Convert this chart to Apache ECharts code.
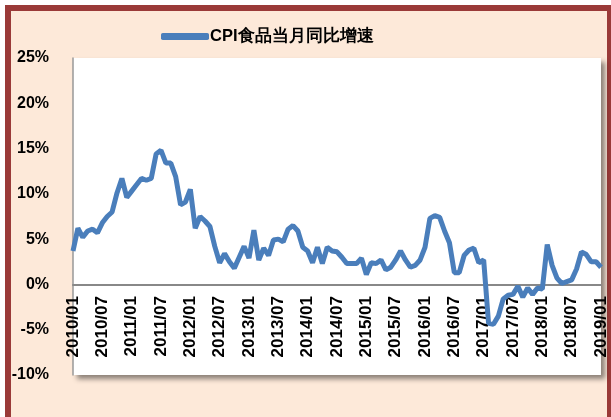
<!DOCTYPE html>
<html>
<head>
<meta charset="utf-8">
<script src="https://cdn.jsdelivr.net/npm/echarts@6/dist/echarts.min.js"></script>
<style>
  html, body { margin: 0; padding: 0; width: 611px; height: 417px; overflow: hidden; background: #fff; }
  #frame { position: absolute; left: 5px; top: 5px; width: 596px; height: 440px; border: 6px solid #9a3a38; background: #fde9d9; }
  #chart { position: absolute; left: 0; top: 0; width: 611px; height: 417px; }
</style>
</head>
<body>
<div id="frame"></div>
<div id="chart"></div>
<script>
// CPI food, year-on-year, monthly from 2010/01
const years = [2010, 2011, 2012, 2013, 2014, 2015, 2016, 2017, 2018, 2019]
const cpiFood2010 = [3.7, 6.2, 5.2, 5.9, 6.1, 5.7, 6.8, 7.5, 8.0, 10.1, 11.7, 9.6]
const cpiFood2011 = [10.3, 11.0, 11.7, 11.5, 11.7, 14.4, 14.8, 13.4, 13.4, 11.9, 8.8, 9.1]
const cpiFood2012 = [10.5, 6.2, 7.5, 7.0, 6.4, 4.2, 2.4, 3.4, 2.5, 1.8, 3.0, 4.2]
const cpiFood2013 = [2.9, 6.0, 2.7, 4.0, 3.2, 4.9, 5.0, 4.7, 6.1, 6.5, 5.9, 4.1]
const cpiFood2014 = [3.7, 2.4, 4.1, 2.3, 4.1, 3.7, 3.6, 3.0, 2.3, 2.3, 2.3, 2.9]
const cpiFood2015 = [1.1, 2.4, 2.3, 2.7, 1.6, 1.9, 2.7, 3.7, 2.7, 1.9, 2.1, 2.7]
const cpiFood2016 = [4.1, 7.3, 7.6, 7.4, 5.9, 4.6, 1.3, 1.3, 3.2, 3.8, 4.0, 2.4]
const cpiFood2017 = [2.7, -4.3, -4.4, -3.5, -1.6, -1.2, -1.1, -0.2, -1.4, -0.4, -1.1, -0.4]
const cpiFood2018 = [-0.5, 4.4, 2.1, 0.7, 0.1, 0.3, 0.5, 1.7, 3.6, 3.3, 2.5, 2.5]
const cpiFood2019 = [1.9]

const yTicks = [-10, -5, 0, 5, 10, 15, 20, 25]

const values = [].concat(cpiFood2010, cpiFood2011, cpiFood2012, cpiFood2013, cpiFood2014,
    cpiFood2015, cpiFood2016, cpiFood2017, cpiFood2018, cpiFood2019)
const months = []
for (let i = 0; i < values.length; i++) {
    const y = years[0] + Math.floor(i / 12)
    const m = i % 12 + 1
    months.push(y + '/' + (m < 10 ? '0' + m : m))
}

const chart = echarts.init(document.getElementById('chart'))
chart.setOption({
    animation: false,
    textStyle: { fontFamily: 'Liberation Sans, Arial, sans-serif' },
    legend: {
        data: ['CPI食品当月同比增速'],
        left: 161,
        top: 28,
        padding: 0,
        icon: 'roundRect',
        itemWidth: 48,
        itemHeight: 7,
        itemGap: 2,
        textStyle: { fontSize: 16.5, fontWeight: 'bold', color: '#000', padding: [0, 0, 0, -4] }
    },
    grid: {
        left: 73,
        right: 10,
        top: 58,
        bottom: 42,
        containLabel: false,
        outerBoundsMode: 'none',
        show: true,
        backgroundColor: '#fff',
        borderWidth: 0,
        shadowColor: 'rgba(0,0,0,0.45)',
        shadowBlur: 5,
        shadowOffsetX: 4,
        shadowOffsetY: 4
    },
    xAxis: {
        type: 'category',
        data: months,
        boundaryGap: false,
        axisLine: { onZero: true, lineStyle: { color: '#888', width: 2 } },
        axisTick: { show: false },
        axisLabel: {
            interval: 5,
            rotate: 90,
            margin: -79,
            fontSize: 17,
            fontWeight: 'bold',
            color: '#000'
        },
        splitLine: { show: false }
    },
    yAxis: {
        type: 'value',
        min: yTicks[0],
        max: yTicks[yTicks.length - 1],
        interval: 5,
        axisLine: { show: true, lineStyle: { color: '#999', width: 1.5 } },
        axisTick: { show: false },
        splitLine: { show: false },
        axisLabel: {
            formatter: '{value}%',
            margin: 24,
            fontSize: 16,
            fontWeight: 'bold',
            color: '#000'
        }
    },
    series: [{
        name: 'CPI食品当月同比增速',
        type: 'line',
        data: values,
        symbol: 'none',
        z: 5,
        lineStyle: { color: '#4a7ebb', width: 5 },
        itemStyle: { color: '#4a7ebb' }
    }]
})
</script>
</body>
</html>
